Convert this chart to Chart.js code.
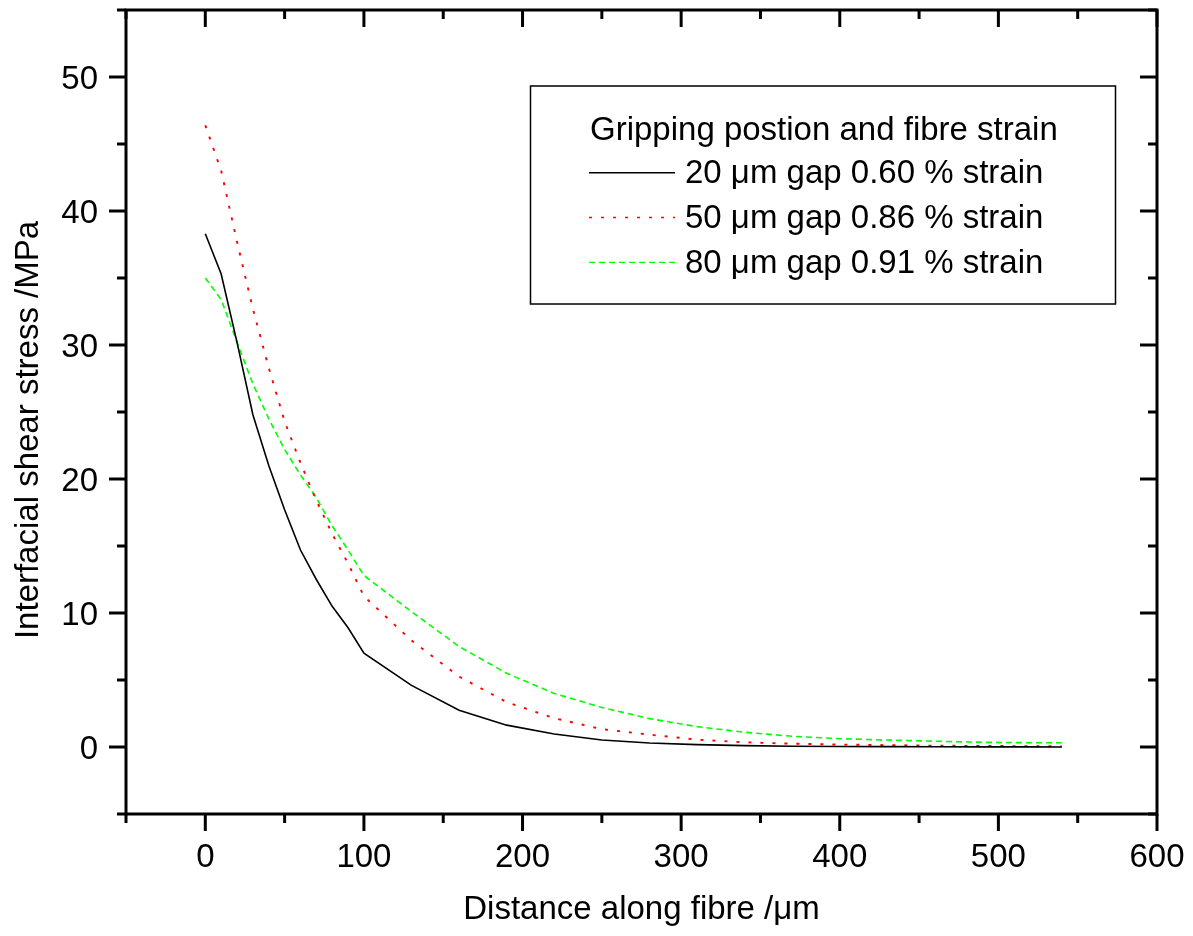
<!DOCTYPE html>
<html lang="en">
<head>
  <meta charset="UTF-8">
  <title>Interfacial shear stress</title>
  <style>
    body { margin: 0; background: #fff; }
    #wrap { width: 1193px; height: 936px; position: relative; }
  </style>
  <script src="https://cdn.jsdelivr.net/npm/chart.js"></script>
</head>
<body>
  <div id="wrap"><canvas id="grafico"></canvas></div>
  <script>
    // distances along fibre (um)
    const distance = [0, 10, 20, 30, 40, 50, 60, 70, 80, 90, 100, 130, 160, 190, 220, 250, 280, 310, 340, 370, 400, 430, 460, 490, 520, 540];
    // shear stress (MPa)
    const gap20 = [38.3, 35.3, 30.2, 24.8, 21.0, 17.7, 14.7, 12.5, 10.5, 8.9, 7.0, 4.6, 2.75, 1.63, 0.97, 0.52, 0.3, 0.18, 0.1, 0.06, 0.04, 0.03, 0.02, 0.01, 0.01, 0.0];
    const gap50 = [46.4, 43.0, 37.7, 32.7, 28.3, 24.3, 21.2, 18.4, 15.9, 13.7, 11.25, 7.95, 5.25, 3.35, 2.15, 1.33, 0.92, 0.55, 0.35, 0.25, 0.18, 0.14, 0.1, 0.08, 0.06, 0.05];
    const gap80 = [35.0, 33.4, 30.2, 27.1, 24.5, 22.2, 20.3, 18.6, 16.5, 14.7, 12.8, 10.1, 7.5, 5.5, 4.0, 2.95, 2.12, 1.52, 1.1, 0.8, 0.62, 0.52, 0.43, 0.35, 0.32, 0.32];

    const seriesNames = ["20 \u03BCm gap 0.60 % strain", "50 \u03BCm gap 0.86 % strain", "80 \u03BCm gap 0.91 % strain"];
    const legendTitle = "Gripping postion and fibre strain";
    const xTitle = "Distance along fibre /\u03BCm";
    const yTitle = "Interfacial shear stress /MPa";

    const xMajor = [0, 100, 200, 300, 400, 500, 600];
    const xMinor = [-50, 50, 150, 250, 350, 450, 550];
    const yMajor = [0, 10, 20, 30, 40, 50];
    const yMinor = [-5, 5, 15, 25, 35, 45, 55];

    const FONT = '33px "Liberation Sans", Arial, sans-serif';

    function pts(ys) {
      return distance.map((d, i) => ({ x: d, y: ys[i] }));
    }

    const styles = [
      { color: "#000000", dash: [], width: 1.6 },
      { color: "#ff0000", dash: [3, 9], width: 1.9 },
      { color: "#00ff00", dash: [6, 4], width: 1.6 }
    ];

    // frame, ticks, labels and legend, drawn from the chart's scales
    const axesPlugin = {
      id: "axesPlugin",
      afterDraw(chart) {
        const ctx = chart.ctx;
        const xs = chart.scales.x, ys = chart.scales.y;
        const a = chart.chartArea;
        ctx.save();
        ctx.strokeStyle = "#000";
        ctx.lineWidth = 3;
        ctx.lineCap = "butt";
        ctx.strokeRect(a.left, a.top, a.right - a.left, a.bottom - a.top);

        function tick(x1, y1, x2, y2) {
          ctx.beginPath(); ctx.moveTo(x1, y1); ctx.lineTo(x2, y2); ctx.stroke();
        }
        xMajor.forEach(v => {
          const px = xs.getPixelForValue(v);
          tick(px, a.bottom, px, a.bottom + 17);
          tick(px, a.top, px, a.top + 17);
        });
        xMinor.forEach(v => {
          const px = xs.getPixelForValue(v);
          tick(px, a.bottom, px, a.bottom + 9);
          tick(px, a.top, px, a.top + 9);
        });
        yMajor.forEach(v => {
          const py = ys.getPixelForValue(v);
          tick(a.left - 17, py, a.left, py);
          tick(a.right - 17, py, a.right, py);
        });
        yMinor.forEach(v => {
          const py = ys.getPixelForValue(v);
          tick(a.left - 9, py, a.left, py);
          tick(a.right - 9, py, a.right, py);
        });

        ctx.fillStyle = "#000";
        ctx.font = FONT;
        ctx.textBaseline = "alphabetic";
        ctx.textAlign = "center";
        xMajor.forEach(v => {
          ctx.fillText(String(v), xs.getPixelForValue(v), a.bottom + 53);
        });
        ctx.textAlign = "right";
        yMajor.forEach(v => {
          ctx.fillText(String(v), a.left - 28, ys.getPixelForValue(v) + 11.5);
        });

        // axis titles
        ctx.textAlign = "center";
        ctx.fillText(xTitle, (a.left + a.right) / 2, 919);
        ctx.save();
        ctx.translate(38, 430);
        ctx.rotate(-Math.PI / 2);
        ctx.fillText(yTitle, 0, 0);
        ctx.restore();

        // legend box
        ctx.lineWidth = 1.5;
        ctx.strokeRect(530.5, 86, 585, 218);
        ctx.textAlign = "left";
        ctx.fillText(legendTitle, 590, 140);
        chart.data.datasets.forEach((ds, i) => {
          const ly = 172.7 + i * 44.85;
          ctx.strokeStyle = ds.borderColor;
          ctx.lineWidth = 1.4;
          ctx.setLineDash(ds.borderDash || []);
          ctx.beginPath(); ctx.moveTo(589, ly); ctx.lineTo(675, ly); ctx.stroke();
          ctx.setLineDash([]);
          ctx.fillText(ds.label, 685, 183.3 + i * 44.85);
        });
        ctx.restore();
      }
    };

    const ctx = document.getElementById("grafico").getContext("2d");
    const grafico = new Chart(ctx, {
      type: "line",
      data: {
        datasets: [gap20, gap50, gap80].map((s, i) => ({
          label: seriesNames[i],
          data: pts(s),
          borderColor: styles[i].color,
          borderDash: styles[i].dash,
          borderWidth: styles[i].width,
          pointRadius: 0,
          tension: 0,
          fill: false
        }))
      },
      options: {
        responsive: true,
        maintainAspectRatio: false,
        animation: false,
        layout: { padding: { left: 126, right: 36, top: 10, bottom: 122 } },
        plugins: { legend: { display: false }, tooltip: { enabled: false } },
        scales: {
          x: { type: "linear", min: -50, max: 600, display: false },
          y: { type: "linear", min: -5, max: 55, display: false }
        }
      },
      plugins: [axesPlugin]
    });
  </script>
</body>
</html>
